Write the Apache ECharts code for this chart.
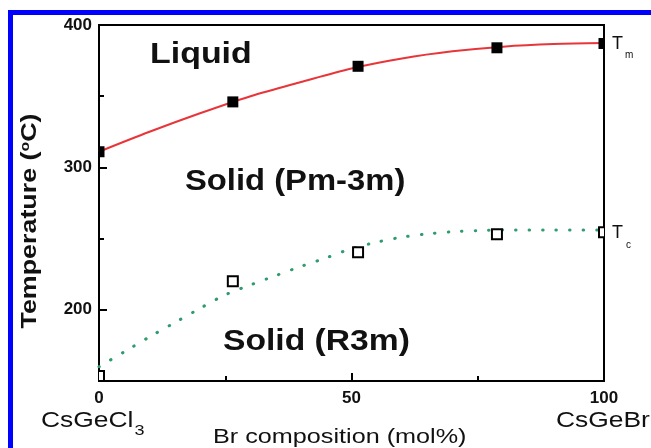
<!DOCTYPE html>
<html>
<head>
<meta charset="utf-8">
<script src="https://cdn.jsdelivr.net/npm/echarts@6/dist/echarts.min.js"></script>
<style>
  html, body { margin: 0; padding: 0; background: #fff; }
  #chart { width: 651px; height: 448px; }
</style>
</head>
<body>
<div id="chart"></div>
<script>
// ---- data ----
const compX = [0, 26.5, 51.3, 78.8, 100];          // Br composition (mol%)
const tmValues = [311, 346, 371, 384, 387];         // Tm (filled squares)
const tcValues = [153.5, 220, 240.5, 253, 254.5];   // Tc (open squares)

// fitted curves as drawn in the figure
const tmCurveX = [0, 10, 20, 30, 40, 50, 60, 70, 80, 90, 100];
const tmCurveY = [311, 325, 338, 350, 360, 369.5, 376.5, 381.5, 384.8, 386.6, 387.3];
const tcCurveX = [0, 5, 10, 15, 20, 25, 30, 35, 40, 45, 50, 55, 60, 65, 70, 75, 80, 90, 100];
const tcCurveY = [160, 170.5, 181, 191, 201, 210.5, 217.5, 224, 230.5, 236.5, 243, 247.5, 251, 253.3, 254.8, 255.6, 256, 256, 256];

const yTickLabels = [200, 300, 400];
const yMinorTicks = [250, 350];
const xTickLabels = [0, 50, 100];
const xMajorTicks = [50];
const xMinorTicks = [25, 75];

const FONT = '"Liberation Sans", Arial, Helvetica, sans-serif';
const ctx = document.createElement('canvas').getContext('2d');
function tw(font, s) { ctx.font = font; return ctx.measureText(s).width; }

function txt(x, y, s, size, weight, sx, extra) {
  const font = weight + ' ' + size + 'px ' + FONT;
  return Object.assign({
    type: 'text', x: x, y: y, scaleX: sx || 1, z: 100,
    style: { text: s, font: font, fill: '#111', textAlign: 'left', textVerticalAlign: 'middle', align: 'left', verticalAlign: 'middle' }
  }, extra || {});
}

const graphics = [];
// blue frame
graphics.push({ type: 'rect', z: 0, shape: { x: 10.5, y: 12.5, width: 700, height: 500 }, style: { fill: 'none', stroke: '#0000ff', lineWidth: 5 } });
// region labels
graphics.push(txt(150, 55, 'Liquid', 29, 'bold', 1.17));
graphics.push(txt(185, 182, 'Solid (Pm-3m)', 29, 'bold', 1.13));
graphics.push(txt(223, 342, 'Solid (R3m)', 29, 'bold', 1.16));
// Tm / Tc labels
graphics.push(txt(612, 44, 'T', 18, 'normal', 1));
graphics.push(txt(625, 55, 'm', 10, 'normal', 1));
graphics.push(txt(612, 233, 'T', 18, 'normal', 1));
graphics.push(txt(626, 245, 'c', 10, 'normal', 1));
// composition end labels
const endSX = 1.2, endSize = 22;
const endFont = 'normal ' + endSize + 'px ' + FONT;
const clW = tw(endFont, 'CsGeCl') * endSX;
graphics.push(txt(41, 421, 'CsGeCl', endSize, 'normal', endSX));
graphics.push(txt(41 + clW + 1, 431, '3', 15, 'normal', endSX));
const brW = tw(endFont, 'CsGeBr') * endSX;
graphics.push(txt(556, 421, 'CsGeBr', endSize, 'normal', endSX));
graphics.push(txt(556 + brW + 1, 431, '3', 15, 'normal', endSX));
// x axis title
graphics.push(txt(213, 437, 'Br composition (mol%)', 21, 'normal', 1.2));
// y axis title (rotated)
graphics.push({
  type: 'text', x: 30, y: 221, rotation: Math.PI / 2, scaleX: 1.22, z: 100,
  style: {
    text: 'Temperature ({sup|o}C)', font: 'bold 22px ' + FONT, fill: '#111',
    textAlign: 'center', textVerticalAlign: 'middle', align: 'center', verticalAlign: 'middle',
    rich: { sup: { fontSize: 13, fontWeight: 'bold', fontFamily: FONT, verticalAlign: 'top', fill: '#111' } }
  }
});

function squareItem(filled, size) {
  return function (params, api) {
    const p = api.coord([api.value(0), api.value(1)]);
    const h = size / 2;
    return {
      type: 'rect',
      shape: { x: p[0] - h, y: p[1] - h, width: size, height: size },
      style: filled ? { fill: '#000', stroke: null } : { fill: '#fff', stroke: '#000', lineWidth: 2 }
    };
  };
}

const zip = (a, b) => a.map((v, i) => [v, b[i]]);

const labelStyle = { fontFamily: FONT, fontWeight: 'bold', fontSize: 17, color: '#111' };

const option = {
  animation: false,
  backgroundColor: '#fff',
  grid: { left: 99, right: 47, top: 25, bottom: 67, show: true, borderColor: '#000', borderWidth: 2, backgroundColor: 'transparent' },
  xAxis: [
    { type: 'value', min: 0, max: 100, position: 'bottom',
      axisLine: { show: true, lineStyle: { color: '#000', width: 2 } },
      axisTick: { show: true, inside: true, length: 8, lineStyle: { color: '#000', width: 2 }, customValues: xMajorTicks },
      axisLabel: Object.assign({ margin: 9, customValues: xTickLabels }, labelStyle),
      splitLine: { show: false } },
    { type: 'value', min: 0, max: 100, position: 'bottom',
      axisLine: { show: false },
      axisTick: { show: true, inside: true, length: 5, lineStyle: { color: '#000', width: 2 }, customValues: xMinorTicks },
      axisLabel: { show: false }, splitLine: { show: false } }
  ],
  yAxis: [
    { type: 'value', min: 150, max: 400, position: 'left',
      axisLine: { show: true, lineStyle: { color: '#000', width: 2 } },
      axisTick: { show: true, inside: true, length: 8, lineStyle: { color: '#000', width: 2 }, customValues: yTickLabels },
      axisLabel: Object.assign({ margin: 7, customValues: yTickLabels }, labelStyle),
      splitLine: { show: false } },
    { type: 'value', min: 150, max: 400, position: 'left', offset: 0,
      axisLine: { show: false },
      axisTick: { show: true, inside: true, length: 5, lineStyle: { color: '#000', width: 2 }, customValues: yMinorTicks },
      axisLabel: { show: false }, splitLine: { show: false } }
  ],
  graphic: graphics,
  series: [
    { type: 'line', name: 'Tm fit', data: zip(tmCurveX, tmCurveY), smooth: 0.3, showSymbol: false,
      lineStyle: { color: '#e8353a', width: 2 }, z: 3 },
    { type: 'line', name: 'Tc fit', data: zip(tcCurveX, tcCurveY), smooth: 0.3, showSymbol: false,
      lineStyle: { color: '#2f9b6e', width: 3, type: [0.5, 13], cap: 'round' }, z: 3 },
    { type: 'custom', name: 'Tm', data: zip(compX, tmValues), encode: { x: 0, y: 1 }, clip: true,
      renderItem: squareItem(true, 11), z: 5 },
    { type: 'custom', name: 'Tc', data: zip(compX, tcValues), encode: { x: 0, y: 1 }, clip: true,
      renderItem: squareItem(false, 10), z: 5 }
  ]
};

const chart = echarts.init(document.getElementById('chart'), null, { renderer: 'canvas' });
chart.setOption(option);
</script>
</body>
</html>
